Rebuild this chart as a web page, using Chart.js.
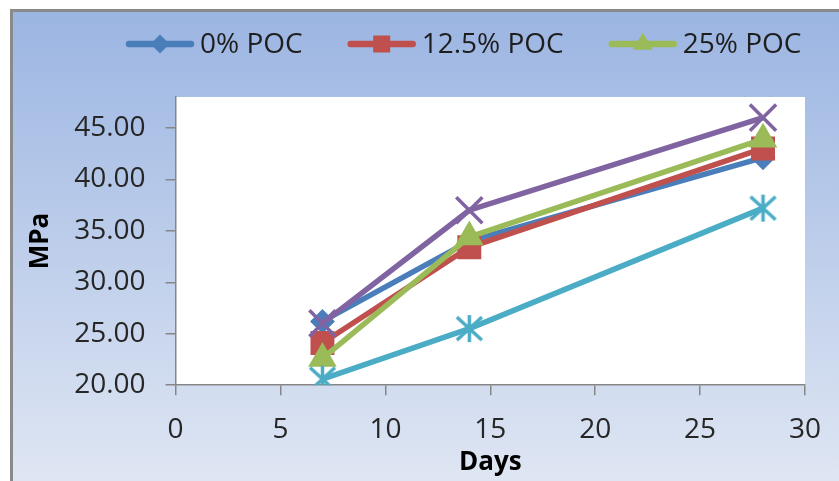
<!DOCTYPE html>
<html><head><meta charset="utf-8">
<script src="https://cdn.jsdelivr.net/npm/chart.js@4/dist/chart.umd.min.js"></script>
<style>html,body{margin:0;padding:0;background:#fff;overflow:hidden}#wrap{width:839px;height:481px;position:relative}</style>
</head><body><div id="wrap"><canvas id="c" width="839" height="481"></canvas></div>
<script>
// ---- data ----
const days = [7, 14, 28];
const poc0 = [26.2, 34.0, 42.1];
const poc125 = [24.1, 33.4, 43.0];
const poc25 = [22.6, 34.4, 43.9];
const series4 = [26.0, 37.0, 46.0];
const series5 = [20.6, 25.5, 37.2];
const seriesNames = ['0% POC', '12.5% POC', '25% POC', '37.5% POC', '50% POC'];
const xTickValues = [0, 5, 10, 15, 20, 25, 30];
const yTickValues = [20, 25, 30, 35, 40, 45];
const legendCount = 3;

// ---- styles ----
const FONT = "'Open Sans', 'Liberation Sans', sans-serif";
const colors = ['#4a7ebb', '#c0504d', '#9bbb59', '#8064a2', '#4bacc6'];

function makeStar(color, dx, dy, vy, lw) {
  const s = Math.ceil(2 * Math.max(dx, vy) + lw + 4);
  const c = document.createElement('canvas');
  c.width = s; c.height = s;
  const g = c.getContext('2d');
  const m = s / 2;
  g.strokeStyle = color; g.lineWidth = lw;
  g.beginPath();
  g.moveTo(m - dx, m - dy); g.lineTo(m + dx, m + dy);
  g.moveTo(m + dx, m - dy); g.lineTo(m - dx, m + dy);
  g.moveTo(m, m - vy); g.lineTo(m, m + vy);
  g.stroke();
  return c;
}
const starImg = makeStar(colors[4], 12.5, 11.5, 13.5, 3.5);

const seriesValues = [poc0, poc125, poc25, series4, series5];
const pointStyles = ['rectRot', 'rect', 'triangle', 'crossRot', starImg];
const pointRadii = [11, 15.5, 14.5, 18.5, 13];

const datasets = seriesValues.map((vals, i) => ({
  label: seriesNames[i],
  data: days.map((d, j) => ({ x: d, y: vals[j] })),
  borderColor: colors[i],
  backgroundColor: colors[i],
  borderWidth: 5.5,
  pointStyle: pointStyles[i],
  pointRadius: pointRadii[i],
  pointBorderWidth: i === 3 ? 3.5 : 2,
  pointBorderColor: colors[i],
  pointBackgroundColor: colors[i],
  tension: 0,
  order: seriesValues.length - i
}));

const bgPlugin = {
  id: 'bg',
  beforeDraw(chart) {
    const { ctx, width, height, chartArea } = chart;
    ctx.save();
    ctx.fillStyle = '#ffffff';
    ctx.fillRect(0, 0, width, height);
    const grad = ctx.createLinearGradient(0, 10, 0, height);
    grad.addColorStop(0, '#9bb5e2');
    grad.addColorStop(1, '#dfe6f3');
    ctx.fillStyle = grad;
    ctx.fillRect(11, 10, width, height);
    ctx.strokeStyle = '#8a8a8a';
    ctx.lineWidth = 3;
    ctx.beginPath();
    ctx.moveTo(11.5, height + 5);
    ctx.lineTo(11.5, 10.5);
    ctx.lineTo(width + 5, 10.5);
    ctx.stroke();
    ctx.fillStyle = '#ffffff';
    ctx.fillRect(chartArea.left, chartArea.top, chartArea.right - chartArea.left, chartArea.bottom - chartArea.top);
    ctx.restore();
  }
};

function drawLegendMarker(ctx, style, x, y, color) {
  ctx.fillStyle = color;
  ctx.beginPath();
  if (style === 'rectRot') {
    const r = 9.5;
    ctx.moveTo(x, y - r); ctx.lineTo(x + r, y); ctx.lineTo(x, y + r); ctx.lineTo(x - r, y);
  } else if (style === 'rect') {
    const h = 8.5;
    ctx.rect(x - h, y - h, 2 * h, 2 * h);
  } else if (style === 'triangle') {
    const r = 11.5;
    ctx.moveTo(x, y - r);
    ctx.lineTo(x + r * 0.866, y + r / 2);
    ctx.lineTo(x - r * 0.866, y + r / 2);
  }
  ctx.closePath();
  ctx.fill();
}

const legendPlugin = {
  id: 'customLegend',
  afterDraw(chart) {
    const ctx = chart.ctx;
    const ds = chart.data.datasets;
    const y = 44;
    const lineLen = 68;
    const textGap = 6;
    const itemGap = 45;
    let x = 126;
    ctx.save();
    ctx.font = '28px ' + FONT;
    ctx.textBaseline = 'middle';
    ctx.textAlign = 'left';
    for (let i = 0; i < legendCount; i++) {
      const d = ds[i];
      ctx.strokeStyle = d.borderColor;
      ctx.lineWidth = 6.5;
      ctx.lineCap = 'round';
      ctx.beginPath();
      ctx.moveTo(x + 3, y); ctx.lineTo(x + lineLen - 3, y);
      ctx.stroke();
      drawLegendMarker(ctx, d.pointStyle, x + lineLen / 2, y, d.borderColor);
      ctx.fillStyle = '#1e1e1e';
      ctx.fillText(d.label, x + lineLen + textGap, y + 1);
      x += lineLen + textGap + ctx.measureText(d.label).width + itemGap;
    }
    ctx.restore();
  }
};

new Chart(document.getElementById('c'), {
  type: 'line',
  data: { datasets },
  options: {
    responsive: false,
    animation: false,
    layout: { padding: { left: 10, right: 34, top: 97, bottom: 0 } },
    plugins: { legend: { display: false }, tooltip: { enabled: false } },
    scales: {
      x: {
        type: 'linear', min: 0, max: 30,
        afterBuildTicks: s => { s.ticks = xTickValues.map(v => ({ value: v })); },
        ticks: { font: { family: FONT, size: 28 }, color: '#262626', padding: 18, maxRotation: 0,
          callback: v => String(v) },
        grid: { drawOnChartArea: false, tickLength: 10, color: '#868686', lineWidth: 1.5 },
        border: { color: '#868686', width: 1.5 },
        title: { display: true, text: 'Days', color: '#000', font: { family: FONT, size: 26, weight: 'bold' },
          padding: { top: -18, bottom: 3 } }
      },
      y: {
        type: 'linear', min: 20, max: 48,
        afterBuildTicks: s => { s.ticks = yTickValues.map(v => ({ value: v })); },
        ticks: { font: { family: FONT, size: 28 }, color: '#262626', padding: 20,
          callback: v => Number(v).toFixed(2) },
        grid: { drawOnChartArea: false, tickLength: 10, color: '#868686', lineWidth: 1.5 },
        border: { color: '#868686', width: 1.5 },
        title: { display: true, text: 'MPa', color: '#000', font: { family: FONT, size: 26, weight: 'bold' },
          padding: { top: 15, bottom: -2 } }
      }
    }
  },
  plugins: [bgPlugin, legendPlugin]
});
</script>
</body></html>
